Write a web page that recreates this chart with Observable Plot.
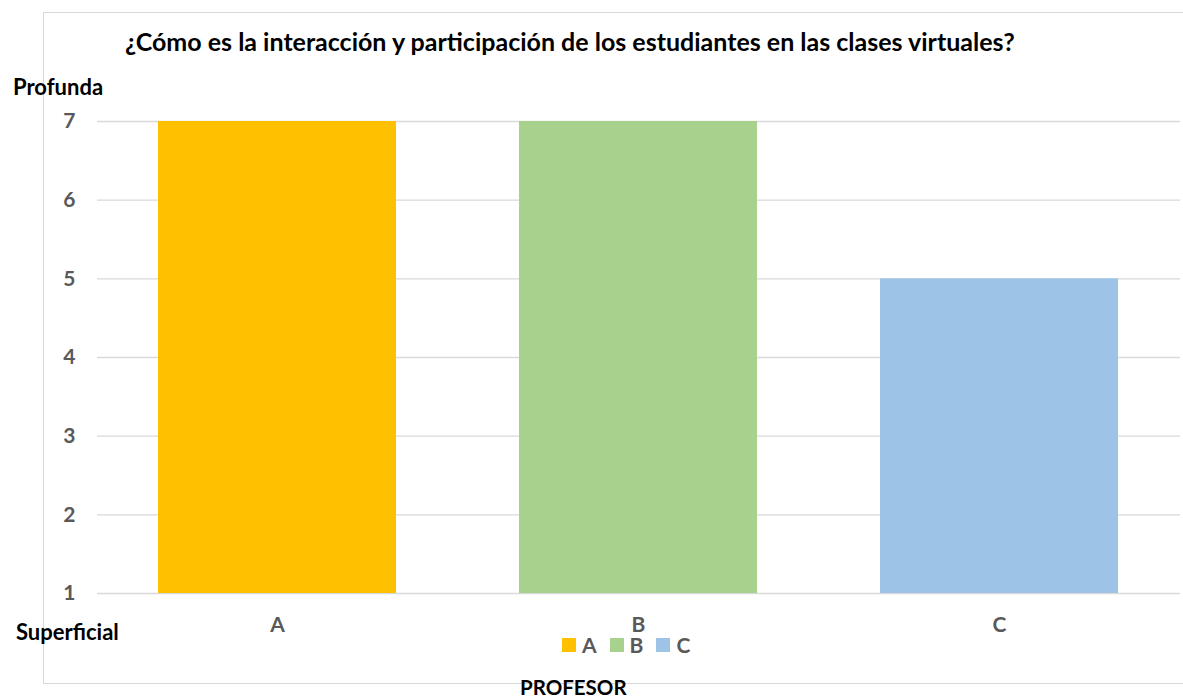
<!DOCTYPE html>
<html>
<head>
<meta charset="utf-8">
<script src="https://cdn.jsdelivr.net/npm/d3@7"></script>
<script src="https://cdn.jsdelivr.net/npm/@observablehq/plot@0.6"></script>
<style>
  html, body { margin: 0; padding: 0; background: #fff; overflow: hidden; }
  #wrap { position: relative; width: 1183px; height: 698px; font-family: Lato, "Noto Sans", sans-serif; }
  #frame { position: absolute; left: 43px; top: 12px; width: 1200px; height: 670px; border: 1px solid #d9d9d9; pointer-events: none; }
  .lbl { position: absolute; font-weight: bold; white-space: nowrap; line-height: 1; }
  #title { left: 125px; top: 29px; font-size: 25px; color: #000; }
  #prof { left: 13px; top: 76px; font-size: 22px; color: #000; }
  #sup { left: 16px; top: 621px; font-size: 22px; color: #000; }
  #xt { left: 520px; top: 677px; font-size: 20.5px; color: #000; }
  #legend { position: absolute; left: 562px; top: 634px; height: 21px; display: flex; align-items: center; font-weight: bold; font-size: 21px; color: #595959; line-height: 1; }
  #legend .sw { width: 14px; height: 14px; display: inline-block; margin-right: 6px; }
  #legend .it { display: flex; align-items: center; margin-right: 13px; }
  #chart { position: absolute; left: 0; top: 0; }
</style>
</head>
<body>
<div id="wrap">
  <div id="chart"></div>
  <div id="frame"></div>
  <div class="lbl" id="title"></div>
  <div class="lbl" id="prof"></div>
  <div class="lbl" id="sup"></div>
  <div class="lbl" id="xt"></div>
  <div id="legend"></div>
</div>
<script>
const titleText = "¿Cómo es la interacción y participación de los estudiantes en las clases virtuales?";
const topLabel = "Profunda";
const bottomLabel = "Superficial";
const xTitle = "PROFESOR";
const categories = ["A", "B", "C"];
const values = [7, 7, 5];
const colors = ["#FFC000", "#A9D18E", "#9DC3E6"];
const yTicks = [1, 2, 3, 4, 5, 6, 7];

const data = categories.map((c, i) => ({profesor: c, valor: values[i]}));

const chart = Plot.plot({
  width: 1183,
  height: 698,
  marginLeft: 97,
  marginRight: 3,
  marginTop: 121,
  marginBottom: 105,
  style: {fontFamily: "Lato, 'Noto Sans', sans-serif", fontSize: "21px", fontWeight: "bold", color: "#595959", background: "transparent"},
  x: {domain: categories, paddingInner: 0.34, paddingOuter: 0.17, label: null},
  y: {domain: [1, 7], label: null},
  color: {domain: categories, range: colors},
  marks: [
    Plot.gridY(yTicks, {stroke: "#d9d9d9", strokeOpacity: 1, strokeWidth: 1.3}),
    Plot.barY(data, {x: "profesor", y1: 1, y2: "valor", fill: "profesor"}),
    Plot.axisY(yTicks, {tickSize: 0, tickPadding: 22, tickFormat: d => String(d), fill: "#595959", fontWeight: "bold", fontSize: 21, label: null}),
    Plot.axisX({tickSize: 0, tickPadding: 24, fill: "#595959", fontWeight: "bold", fontSize: 21, label: null})
  ]
});
document.getElementById("chart").appendChild(chart);
document.getElementById("title").textContent = titleText;
document.getElementById("prof").textContent = topLabel;
document.getElementById("sup").textContent = bottomLabel;
document.getElementById("xt").textContent = xTitle;
const lg = document.getElementById("legend");
categories.forEach((c, i) => {
  const it = document.createElement("span");
  it.className = "it";
  const sw = document.createElement("span");
  sw.className = "sw";
  sw.style.background = colors[i];
  it.appendChild(sw);
  it.appendChild(document.createTextNode(c));
  lg.appendChild(it);
});
</script>
</body>
</html>
